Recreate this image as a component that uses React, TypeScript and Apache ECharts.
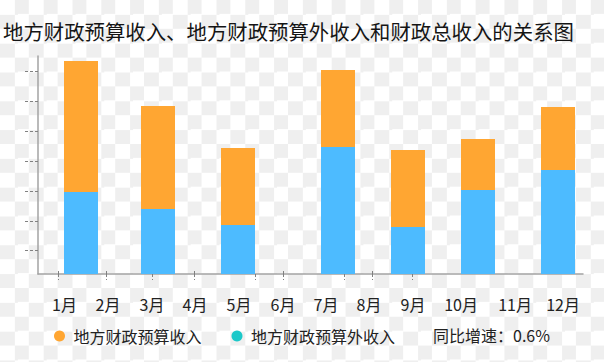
import React, { useEffect, useRef } from "react";
import * as echarts from "echarts";

const titleText = "地方财政预算收入、地方财政预算外收入和财政总收入的关系图";
const seriesBudget = "地方财政预算收入";
const seriesExtra = "地方财政预算外收入";
const growthLabel = "同比增速：0.6%";

// bar positions along the horizontal value axis
const barPositions = [4.3, 12.0, 20.0, 30.0, 37.0, 44.0, 52.0];
// lower (blue) part: 预算外收入
const extraValues = [8.2, 6.5, 4.9, 12.7, 4.7, 8.4, 10.4];
// top of each bar: 预算收入 + 预算外收入 (total)
const totalValues = [21.3, 16.8, 12.6, 20.4, 12.4, 13.5, 16.7];

// month labels and their positions along the horizontal axis
const monthLabels = ["1月", "2月", "3月", "4月", "5月", "6月", "7月", "8月", "9月", "10月", "11月", "12月"];
const monthPositions = [2.65, 7.0, 11.4, 15.7, 20.1, 24.5, 28.8, 33.1, 37.5, 42.3, 47.7, 52.5];

// tick marks
const xTicksOutside = [2.0, 6.8, 11.4, 15.6, 21.7, 24.5, 30.6, 33.4, 37.4];
const xTicksCrossing = [2.0, 6.8, 15.6, 24.5, 33.4];
const yTicks = [2.4, 5.3, 8.3, 11.3, 14.3, 17.3, 20.3];

const X_MAX = 54.5;
const Y_MAX = 21.8;

const ORANGE = "#ffa632";
const BLUE = "#4dbbff";
const TEAL = "#1cc8c9";
const AXIS = "#a3a3a3";
const TICK = "#808080";
const FONT = "'Noto Sans CJK SC', 'Noto Sans', sans-serif";

export default function App() {
  const ref = useRef<HTMLDivElement>(null);

  useEffect(() => {
    if (!ref.current) return;
    const chart = echarts.init(ref.current, undefined, { renderer: "svg" });
    const tickLine = { color: TICK, width: 1, type: [3, 2] as any };
    chart.setOption({
      animation: false,
      backgroundColor: "transparent",
      textStyle: { fontFamily: FONT },
      title: {
        text: titleText,
        left: 3,
        top: 21,
        padding: 0,
        textStyle: { fontSize: 20.4, fontWeight: "normal", color: "#151515", fontFamily: FONT },
      },
      legend: {
        left: 54,
        top: 328,
        padding: 0,
        icon: "circle",
        itemWidth: 14,
        itemHeight: 11,
        itemGap: 30,
        selectedMode: false,
        textStyle: { fontSize: 16, color: "#222", fontFamily: FONT, padding: [0, 0, 0, 2] },
        data: [
          { name: seriesBudget, itemStyle: { color: ORANGE } },
          { name: seriesExtra, itemStyle: { color: TEAL } },
        ],
      },
      graphic: [
        {
          type: "text",
          left: 433,
          top: 327,
          style: { text: growthLabel, fontSize: 16, fill: "#222", fontFamily: FONT },
        },
      ],
      grid: { left: 38, right: 21, top: 56, bottom: 88, containLabel: false },
      xAxis: [
        {
          type: "value",
          min: 0,
          max: X_MAX,
          position: "bottom",
          axisLine: { show: true, onZero: false, lineStyle: { color: AXIS, width: 1.5 } },
          splitLine: { show: false },
          axisTick: { show: true, customValues: xTicksOutside, length: 6, lineStyle: tickLine },
          axisLabel: {
            show: true,
            customValues: monthPositions,
            formatter: (v: number) => {
              const i = monthPositions.findIndex((p) => Math.abs(p - v) < 1e-6);
              return i >= 0 ? monthLabels[i] : "";
            },
            margin: 22,
            fontSize: 16,
            color: "#222",
            fontFamily: FONT,
          },
        },
        {
          type: "value",
          min: 0,
          max: X_MAX,
          position: "bottom",
          axisLine: { show: false, onZero: false },
          splitLine: { show: false },
          axisTick: { show: true, inside: true, customValues: xTicksCrossing, length: 5, lineStyle: tickLine },
          axisLabel: { show: false },
        },
      ],
      yAxis: {
        type: "value",
        min: 0,
        max: Y_MAX,
        axisLine: { show: true, onZero: false, lineStyle: { color: AXIS, width: 1.5 } },
        splitLine: { show: false },
        axisTick: { show: true, customValues: yTicks, length: 14, lineStyle: tickLine },
        axisLabel: { show: false },
      },
      series: [
        {
          name: seriesBudget,
          type: "bar",
          xAxisIndex: 0,
          barWidth: 34,
          barGap: "-100%",
          itemStyle: { color: ORANGE },
          z: 2,
          data: barPositions.map((x, i) => [x, totalValues[i]]),
        },
        {
          name: seriesExtra,
          type: "bar",
          xAxisIndex: 0,
          barWidth: 34,
          barGap: "-100%",
          itemStyle: { color: BLUE },
          z: 3,
          data: barPositions.map((x, i) => [x, extraValues[i]]),
        },
      ],
    });
    return () => chart.dispose();
  }, []);

  const sq = 14.4;
  return (
    <div
      style={{
        position: "fixed",
        left: 0,
        top: 0,
        width: 604,
        height: 362,
        backgroundColor: "#ffffff",
        backgroundImage: "conic-gradient(#efefef 25%, #ffffff 0 50%, #efefef 0 75%, #ffffff 0)",
        backgroundSize: `${sq * 2}px ${sq * 2}px`,
      }}
    >
      <div ref={ref} style={{ width: 604, height: 362 }} />
    </div>
  );
}
